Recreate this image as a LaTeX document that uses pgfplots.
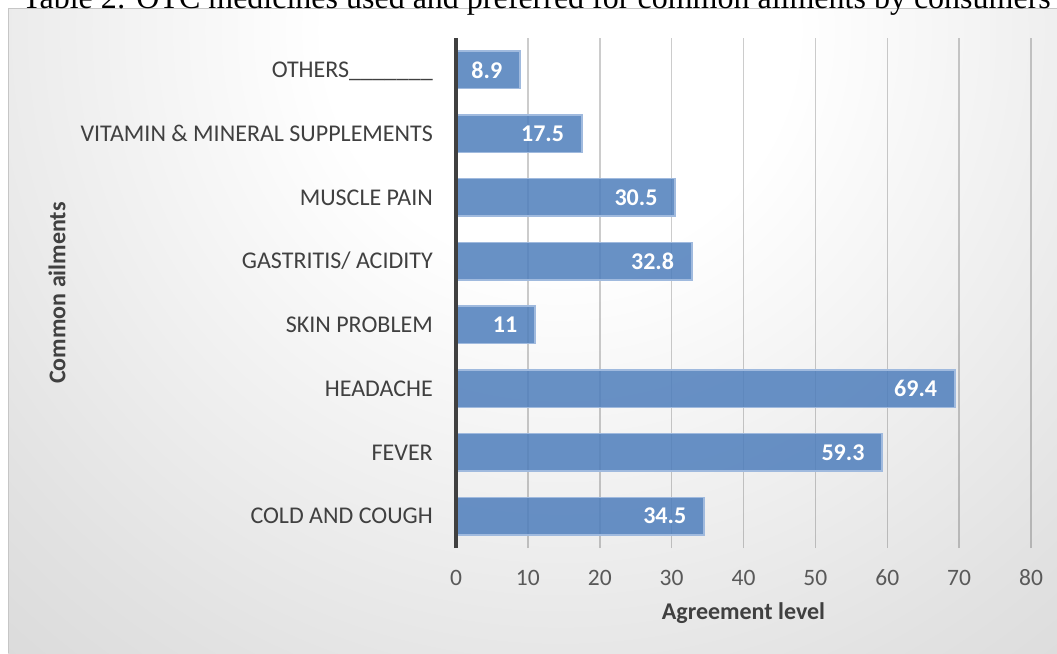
\documentclass[border=0pt]{standalone}
\usepackage{pgfplots}
\pgfplotsset{compat=1.18}
\usepackage{fontspec}
\setmainfont{Carlito}
\newfontfamily\capfont{Liberation Serif}
\definecolor{barblue}{RGB}{78,126,188}
\definecolor{baredge}{RGB}{160,186,222}
\definecolor{axisdark}{RGB}{64,64,64}
\definecolor{ticktext}{RGB}{89,89,89}
\definecolor{bgedge}{RGB}{198,198,198}
\definecolor{bgmid}{RGB}{226,226,226}
\pgfdeclareradialshading{bgshade}{\pgfpoint{0bp}{0bp}}{color(0bp)=(white); color(6.5bp)=(white); color(19.5bp)=(bgmid); color(34.5bp)=(bgedge); color(50bp)=(bgedge)}
\begin{document}
\begin{tikzpicture}[x=1pt,y=1pt]
\useasboundingbox (0,0) rectangle (1057,653);
\clip (0,0) rectangle (1057,653);
\fill[white] (0,0) rectangle (1057,653);
\begin{scope}
\clip (8,0) rectangle (1057,644);
\fill[bgedge] (8,0) rectangle (1057,644);
\shade[shading=bgshade] (560,623) circle (900);
\end{scope}
\draw[gray!45, line width=1pt] (8,0) -- (8,644) -- (1057,644);
\node[anchor=base west, inner sep=0pt, font=\capfont\fontsize{32}{36}\selectfont] at (22,644.5) {Table 2: OTC medicines used and preferred for common ailments by consumers};
\begin{axis}[
  at={(456pt,105pt)}, anchor=south west,
  scale only axis, width=575pt, height=510pt,
  xmin=0, xmax=80, ymin=-0.5, ymax=7.5,
  xtick={0,10,...,80}, ytick={0,1,...,7},
  yticklabels={COLD AND COUGH, FEVER, HEADACHE, SKIN PROBLEM, GASTRITIS/ ACIDITY, MUSCLE PAIN, VITAMIN \& MINERAL SUPPLEMENTS, OTHERS\_\_\_\_\_\_\_},
  axis line style={draw=none},
  major tick length=0pt,
  xmajorgrids=true,
  grid style={black, opacity=0.2, line width=1.5pt},
  /pgf/number format/assume math mode=true,
  xticklabel style={anchor=center, inner sep=0pt, yshift=-29.5pt, font=\fontsize{23.5}{28}\selectfont, text=ticktext},
  yticklabel style={anchor=base east, inner sep=0pt, xshift=-23pt, yshift=-7.7pt, font=\fontsize{24}{28}\selectfont, text=axisdark},
  xlabel={Agreement level},
  xlabel style={at={(axis description cs:0.5,-0.12745)}, anchor=center, inner sep=0pt, font=\bfseries\fontsize{24}{28}\selectfont, text=axisdark},
  ylabel={Common ailments},
  ylabel style={at={(axis description cs:-0.6939,0.5)}, anchor=center, inner sep=0pt, rotate=0, font=\bfseries\fontsize{24}{28}\selectfont, text=axisdark},
  clip=false,
]
\addplot[xbar, bar width=37.6pt, fill=barblue, fill opacity=0.85, draw=baredge, line width=1.5pt,
  nodes near coords={\pgfmathprintnumber{\pgfplotspointmeta}},
  every node near coord/.append style={anchor=east, xshift=-17pt, inner sep=0pt, text=white, text opacity=1, fill opacity=1, font=\bfseries\fontsize{24}{28}\selectfont}]
  coordinates {(34.5,0) (59.3,1) (69.4,2) (11,3) (32.8,4) (30.5,5) (17.5,6) (8.9,7)};
\draw[axisdark, line width=3.3pt] (axis cs:0,-0.5) -- (axis cs:0,7.5);
\end{axis}
\end{tikzpicture}
\end{document}
